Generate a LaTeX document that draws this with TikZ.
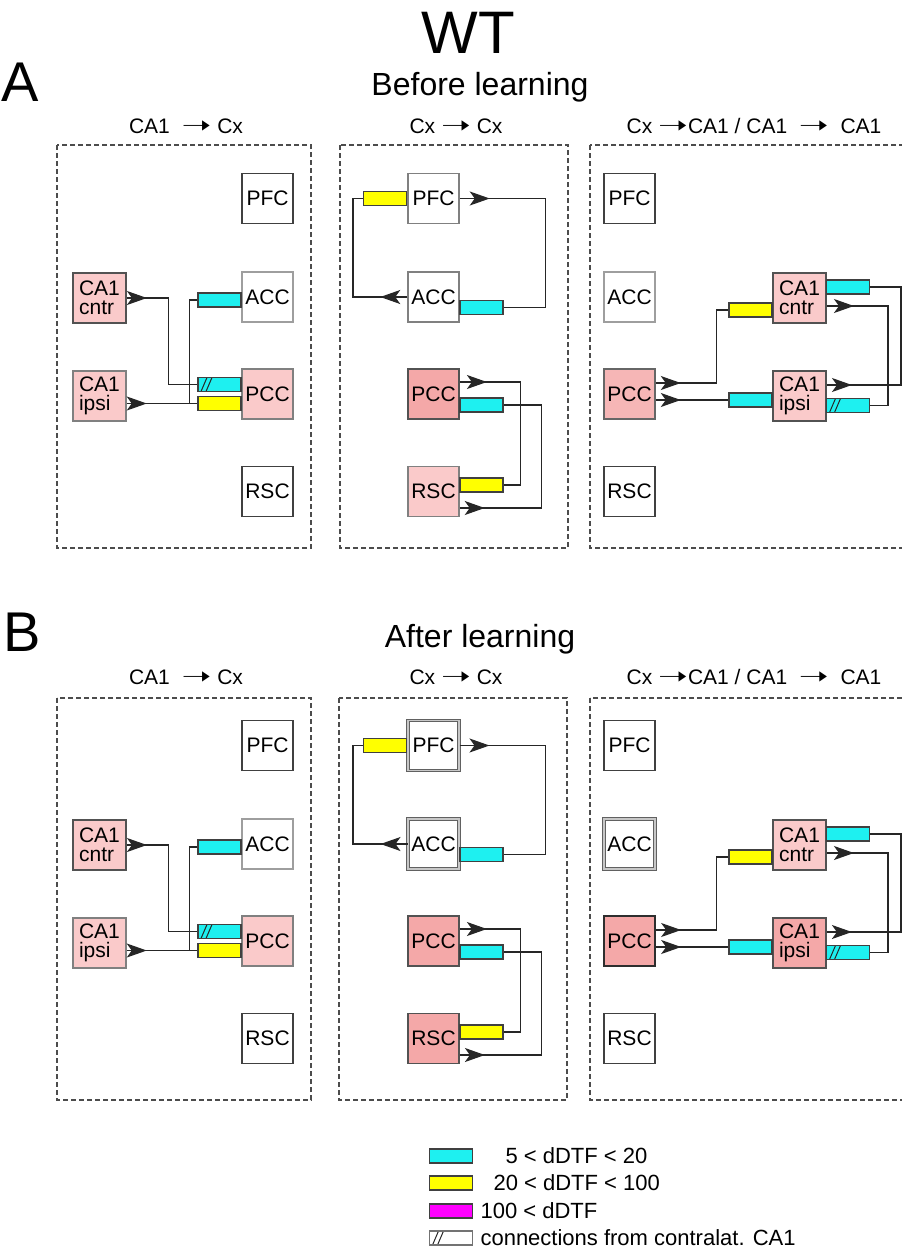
\documentclass[tikz,border=0pt]{standalone}
\usepackage{fontspec}
\setmainfont{Liberation Sans}
\newfontfamily\djv{DejaVu Sans}
\usetikzlibrary{arrows.meta,decorations.markings,calc}
\definecolor{cyanb}{RGB}{30,240,240}
\definecolor{yellowb}{RGB}{255,255,0}
\definecolor{magentab}{RGB}{255,0,255}
\definecolor{pinkL}{RGB}{250,202,202}
\definecolor{pinkM}{RGB}{244,168,168}
\definecolor{pinkR}{RGB}{246,182,182}
\newcommand{\rarr}{{\djv\scalebox{1.7}[1.15]{➝}}}
\tikzset{
 boxbase/.style={rectangle, minimum width=51pt, minimum height=50pt, inner sep=0pt, font=\fontsize{21}{19}\selectfont, text=black},
 wdark/.style={boxbase, fill=white, draw=black!75, line width=1.8pt},
 wlight/.style={boxbase, fill=white, draw=black!38, line width=1.5pt},
 wgray/.style={boxbase, fill=white, draw=black!50, line width=1.5pt},
 wdbl/.style={boxbase, fill=white, draw=black!62, line width=1pt, double=black!22, double distance=1.3pt},
 plight/.style={boxbase, fill=pinkL, draw=black!50, line width=1.5pt},
 plightd/.style={boxbase, fill=pinkL, draw=black!68, line width=1.9pt},
 pright/.style={boxbase, fill=pinkR, draw=black!60, line width=1.6pt},
 pmed/.style={boxbase, fill=pinkM, draw=black!68, line width=1.8pt},
 pmedd/.style={boxbase, fill=pinkM, draw=black!82, line width=2.3pt},
 caone/.style={minimum width=53pt, align=left},
 barbox/.style={rectangle, minimum width=43pt, minimum height=14pt, inner sep=0pt, draw=black!75, line width=1.1pt},
 cbar/.style={barbox, fill=cyanb},
 ybar/.style={barbox, fill=yellowb},
 mbar/.style={barbox, fill=magentab},
 hatchmark/.style={path picture={\draw[line width=1pt,black!85] ([xshift=3pt]path picture bounding box.south west) -- ++(6pt,14pt) ([xshift=8pt]path picture bounding box.south west) -- ++(6pt,14pt);}},
 conn/.style={draw=black!85, line width=1.2pt},
 arrowat/.style={postaction={decorate}, decoration={markings, mark=at position #1 with {\arrow{Stealth[length=20pt,width=14pt,inset=5pt]}}}},
 panelbox/.style={draw=black!70, dash pattern=on 5pt off 3pt, line width=1.2pt},
 subtitle/.style={font=\fontsize{21}{21}\selectfont},
 legtext/.style={anchor=west, font=\fontsize{22}{22}\selectfont},
 % panel A styles
 sALpfc/.style={wdark}, sALacc/.style={wlight}, sALpcc/.style={plight}, sALrsc/.style={wdark}, sALcntr/.style={plightd}, sALipsi/.style={plight},
 sAMpfc/.style={wgray}, sAMacc/.style={wgray}, sAMpcc/.style={pmed}, sAMrsc/.style={plight},
 sARpfc/.style={wdark}, sARacc/.style={wlight}, sARpcc/.style={pright}, sARrsc/.style={wdark}, sARcntr/.style={plightd}, sARipsi/.style={plightd},
 % panel B styles
 sBLpfc/.style={wdark}, sBLacc/.style={wlight}, sBLpcc/.style={plight}, sBLrsc/.style={wdark}, sBLcntr/.style={plightd}, sBLipsi/.style={plight},
 sBMpfc/.style={wdbl}, sBMacc/.style={wdbl}, sBMpcc/.style={pmed}, sBMrsc/.style={pmed},
 sBRpfc/.style={wdark}, sBRacc/.style={wdbl}, sBRpcc/.style={pmedd}, sBRrsc/.style={wdark}, sBRcntr/.style={plightd}, sBRipsi/.style={pmed},
}
\newcommand{\mypanels}[1]{%
 % ---- left panel: CA1 -> Cx
 \node[s#1Lpfc] (#1Lpfc) at (267.5,198.5) {PFC};
 \node[s#1Lacc] (#1Lacc) at (267.5,297) {ACC};
 \node[s#1Lpcc] (#1Lpcc) at (267.5,394) {PCC};
 \node[s#1Lrsc] (#1Lrsc) at (267.5,491.5) {RSC};
 \node[s#1Lcntr, caone] (#1Lcntr) at (99.5,298) {CA1\\cntr};
 \node[s#1Lipsi, caone] (#1Lipsi) at (99.5,396) {CA1\\ipsi};
 \node[cbar] (#1Laccbar) at (219.5,300) {};
 \node[cbar, hatchmark] (#1Lpcch) at (219.5,384.5) {};
 \node[ybar] (#1Lpccy) at (219.5,403.5) {};
 \draw[conn, arrowat=20pt] (#1Lcntr.east) -| ($(#1Lpcch.west)+(-29,0)$) -- (#1Lpcch.west);
 \draw[conn, arrowat=20pt] (#1Lipsi.east |- #1Lpccy.west) -- (#1Lpccy.west);
 \draw[conn] (#1Laccbar.west) -| ($(#1Lpccy.west)+(-8,0)$);
 % ---- middle panel: Cx -> Cx
 \node[s#1Mpfc] (#1Mpfc) at (433.5,198.5) {PFC};
 \node[s#1Macc] (#1Macc) at (433.5,297) {ACC};
 \node[s#1Mpcc] (#1Mpcc) at (433.5,394) {PCC};
 \node[s#1Mrsc] (#1Mrsc) at (433.5,491.5) {RSC};
 \node[ybar] (#1Mpfcbar) at (385,198.5) {};
 \node[cbar] (#1Maccbar) at (481.5,307.5) {};
 \node[cbar] (#1Mpccbar) at (481.5,405) {};
 \node[ybar] (#1Mrscbar) at (481.5,485) {};
 \draw[conn, arrowat=27pt] (#1Macc.west) -| ($(#1Mpfcbar.west)+(-10,0)$) -- (#1Mpfcbar.west);
 \draw[conn, arrowat=30pt] (#1Mpfc.east) -| ($(#1Maccbar.east)+(42,0)$) -- (#1Maccbar.east);
 \draw[conn, arrowat=27pt] ([yshift=12pt]#1Mpcc.east) -| ($(#1Mrscbar.east)+(17,0)$) -- (#1Mrscbar.east);
 \draw[conn, arrowat=25pt] ([yshift=-16.5pt]#1Mrsc.east) -| ($(#1Mpccbar.east)+(38,0)$) -- (#1Mpccbar.east);
 % ---- right panel: Cx -> CA1 / CA1 -> CA1
 \node[s#1Rpfc] (#1Rpfc) at (629.5,198.5) {PFC};
 \node[s#1Racc] (#1Racc) at (629.5,297) {ACC};
 \node[s#1Rpcc] (#1Rpcc) at (629.5,394) {PCC};
 \node[s#1Rrsc] (#1Rrsc) at (629.5,491.5) {RSC};
 \node[s#1Rcntr, caone] (#1Rcntr) at (799.5,298) {CA1\\cntr};
 \node[s#1Ripsi, caone] (#1Ripsi) at (799.5,396) {CA1\\ipsi};
 \node[ybar] (#1Rcntry) at (750.5,310) {};
 \node[cbar] (#1Ripsic) at (750.5,400) {};
 \node[cbar] (#1Rcntrc) at (848,287) {};
 \node[cbar, hatchmark] (#1Ripsih) at (848,405.5) {};
 \draw[conn, arrowat=25pt] ([yshift=11pt]#1Rpcc.east) -| ($(#1Rcntry.west)+(-12,0)$) -- (#1Rcntry.west);
 \draw[conn, arrowat=25pt] (#1Rpcc.east |- #1Ripsic.west) -- (#1Ripsic.west);
 \draw[conn, arrowat=25pt] ([yshift=11pt]#1Ripsi.east) -| ($(#1Rcntrc.east)+(31,0)$) -- (#1Rcntrc.east);
 \draw[conn, arrowat=27pt] ([yshift=-8pt]#1Rcntr.east) -| ($(#1Ripsih.east)+(18,0)$) -- (#1Ripsih.east);
}
\begin{document}
\begin{tikzpicture}[x=1pt,y=-1pt]
\useasboundingbox (0,0) rectangle (902,1259);
\fill[white] (0,0) rectangle (902,1259);
% titles
\node[font=\fontsize{60}{60}\selectfont] (wt) at (468,33) {WT};
\node[font=\fontsize{56}{56}\selectfont] (labA) at (20,82) {A};
\node[font=\fontsize{56}{56}\selectfont] (labB) at (22,632) {B};
\node[font=\fontsize{32}{32}\selectfont] (before) at (480,87) {Before learning};
\node[font=\fontsize{32}{32}\selectfont] (after) at (480,639) {After learning};
% subtitles
\node[subtitle] (tA1) at (186,126) {CA1 \;\rarr\ Cx};
\node[subtitle] (tA2) at (456,126) {Cx \rarr\ Cx};
\node[subtitle] (tA3) at (754,126) {Cx \rarr CA1 / CA1 \;\rarr\; CA1};
\node[subtitle] (tB1) at (186,677) {CA1 \;\rarr\ Cx};
\node[subtitle] (tB2) at (456,677) {Cx \rarr\ Cx};
\node[subtitle] (tB3) at (754,677) {Cx \rarr CA1 / CA1 \;\rarr\; CA1};
% dashed panel frames
\draw[panelbox] (57,145) rectangle (311,548);
\draw[panelbox] (340,145) rectangle (568,548);
\draw[panelbox] (590,145) rectangle (920,548);
\draw[panelbox] (57,698) rectangle (311,1100);
\draw[panelbox] (339,698) rectangle (567,1100);
\draw[panelbox] (590,698) rectangle (920,1100);
% panels
\mypanels{A}
\begin{scope}[shift={(0,547)}]
\mypanels{B}
\end{scope}
% legend
\node[cbar] (lg1) at (451,1156) {};
\node[legtext] (lt1) at (502,1156) {5 < dDTF < 20};
\node[ybar] (lg2) at (451,1183) {};
\node[legtext] (lt2) at (490,1183) {20 < dDTF < 100};
\node[mbar] (lg3) at (451,1211) {};
\node[legtext] (lt3) at (477,1211) {100 < dDTF};
\node[barbox, fill=white, draw=black!55, hatchmark] (lg4) at (451,1238) {};
\node[legtext] (lt4) at (477,1238) {connections from contralat. CA1};
\end{tikzpicture}
\end{document}
